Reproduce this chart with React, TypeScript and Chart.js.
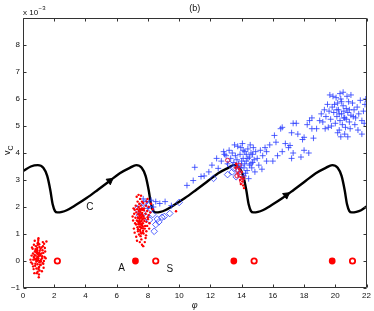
import React, { useEffect, useRef } from "react";
import { Chart, registerables } from "chart.js";
Chart.register(...registerables);

// Trajectory C (black curve), in units of 1e-3
const curveX = [0.0, 0.5, 0.95, 1.3, 1.55, 1.75, 1.9, 2.05, 2.2, 2.5, 2.8, 3.4, 4.07, 4.8, 5.56, 6.2, 6.84, 7.25, 7.6, 7.85, 8.05, 8.2, 8.35, 8.5, 8.8, 9.1, 9.7, 10.37, 11.1, 11.86, 12.5, 13.14, 13.5, 13.85, 14.1, 14.3, 14.45, 14.6, 14.75, 15.05, 15.35, 15.95, 16.62, 17.35, 18.11, 18.75, 19.39, 19.8, 20.15, 20.4, 20.6, 20.75, 20.9, 21.05, 21.35, 21.65, 22.0];
const curveY = [3.33, 3.5, 3.55, 3.45, 3.15, 2.62, 2.1, 1.85, 1.8, 1.82, 1.88, 2.08, 2.33, 2.64, 2.97, 3.25, 3.45, 3.55, 3.45, 3.15, 2.62, 2.1, 1.85, 1.8, 1.82, 1.88, 2.08, 2.33, 2.64, 2.97, 3.25, 3.45, 3.55, 3.45, 3.15, 2.62, 2.1, 1.85, 1.8, 1.82, 1.88, 2.08, 2.33, 2.64, 2.97, 3.25, 3.45, 3.55, 3.45, 3.15, 2.62, 2.1, 1.85, 1.8, 1.82, 1.88, 2.02];

// direction arrows on C
const arrowPts: [number, number][] = [[5.56, 2.97], [16.86, 2.44]];

// equilibria: A (filled) and S (open)
const filledEq: [number, number][] = [[7.2, 0], [13.5, 0], [19.8, 0]];
const openEq: [number, number][] = [[2.2, 0], [8.5, 0], [14.8, 0], [21.1, 0]];

// red dots (samples)
const redDots: [number, number][] = [
  [0.92,0.15],[1.05,-0.05],[0.85,0.32],[0.98,0.08],[1.12,0.45],[0.78,-0.18],[0.95,0.6],[1.01,0.22],[0.88,0.0],[1.18,0.28],
  [0.72,0.12],[0.99,-0.3],[1.07,0.38],[0.83,0.55],[0.93,-0.12],[1.22,0.1],[0.9,0.42],[1.03,-0.22],[0.81,0.2],[0.97,0.7],
  [1.15,-0.02],[0.87,0.05],[1.0,0.18],[0.94,-0.4],[0.76,0.35],[1.09,0.25],[0.91,0.48],[1.26,-0.08],[0.86,-0.28],[1.04,0.62],
  [0.96,0.02],[0.69,0.15],[1.13,-0.15],[0.89,0.3],[1.02,-0.5],[0.82,0.4],[1.08,0.0],[0.95,0.26],[0.79,-0.1],[1.19,0.5],
  [0.93,0.12],[1.06,-0.35],[0.84,0.08],[0.98,0.78],[1.11,0.2],[0.74,0.22],[1.01,-0.6],[0.9,0.34],[1.35,0.64],[0.58,0.5],
  [1.42,0.35],[0.65,-0.2],[1.3,-0.1],[0.97,0.1],[0.88,-0.45],[1.05,0.52],[0.92,0.28],[1.16,0.05],[0.8,0.44],[1.0,-0.25],
  [0.94,0.66],[1.23,0.18],[0.86,-0.02],[1.03,0.3],[0.99,0.84],[0.77,0.06],[1.1,-0.14],[0.91,0.38],[1.5,0.72],[0.48,0.05],
  [0.55,0.2],[0.6,-0.1],[0.62,0.45],[0.66,0.05],[0.68,-0.3],[1.3,0.3],[1.34,0.0],[1.38,0.15],[1.28,0.55],[1.32,-0.25],
  [1.45,0.1],[0.52,-0.05],[0.7,0.6],[1.25,0.4],[0.64,0.28],[1.4,0.48],[0.73,-0.45],[1.21,-0.38],[1.27,0.7],[0.75,0.75],
  [7.52,1.45],[7.61,1.32],[7.44,1.58],[7.7,1.21],[7.38,1.72],[7.55,1.9],[7.66,1.05],[7.48,1.38],[7.59,1.62],[7.33,1.25],
  [7.77,1.48],[7.5,1.15],[7.42,1.85],[7.63,1.78],[7.57,1.02],[7.29,1.5],[7.71,1.66],[7.46,1.28],[7.54,2.05],[7.68,1.4],
  [7.36,1.1],[7.6,1.95],[7.49,1.7],[7.82,1.3],[7.4,1.42],[7.65,1.55],[7.53,0.92],[7.26,1.8],[7.74,1.88],[7.45,2.12],
  [7.58,1.22],[7.35,1.6],[7.69,1.12],[7.51,1.82],[7.62,2.2],[7.43,0.98],[7.79,1.58],[7.47,1.52],[7.56,1.35],[7.31,1.92],
  [7.72,1.02],[7.39,1.36],[7.64,1.7],[7.5,2.3],[7.58,0.8],[7.85,1.75],[7.24,1.35],[7.46,1.65],[7.67,1.28],[7.55,1.6],
  [7.41,2.0],[7.6,1.48],[7.37,1.18],[7.75,1.95],[7.52,1.08],[7.48,0.7],[7.62,0.6],[7.34,2.2],[7.7,2.15],[7.9,1.45],
  [7.2,1.6],[7.56,2.42],[7.28,2.38],[7.44,1.45],[7.66,1.9],[7.53,1.25],[7.8,1.2],[7.42,1.75],[7.95,1.85],[8.05,2.0],
  [7.98,1.62],[8.2,2.12],[8.3,1.92],[9.8,1.84],[7.15,1.9],[7.62,1.38],[7.47,1.92],[7.58,1.73],[7.35,1.48],[7.73,1.58],
  [7.05,1.5],[7.1,1.2],[7.12,1.75],[7.18,1.4],[7.22,2.05],[7.08,1.95],[7.9,1.1],[7.95,1.3],[8.0,1.55],[8.05,1.7],
  [7.88,0.95],[8.1,1.4],[7.92,2.2],[8.15,1.8],[7.02,1.65],[7.25,0.9],[7.85,0.85],[7.98,2.3],[7.15,1.05],[8.08,1.2],
  [7.3,0.75],[7.8,0.7],[7.7,0.55],[7.4,2.45],[7.87,2.05],
  [13.75,3.25],[14.1,2.8],[13.85,3.4],[13.95,3.1],[14.05,2.95],[13.7,3.5],[14.15,2.7],[13.9,3.0],[13.8,3.15],[14.0,3.3],
  [13.65,3.6],[14.1,3.05],[13.95,2.85],[13.6,3.45]
];

// small red open circles
const redRings: [number, number][] = [[13.1,3.73],[13.9,3.28],[14.1,3.08],[13.85,3.55],[13.75,3.35],[14.0,2.95],[13.7,3.15]];

// blue plus samples
const bluePlus: [number, number][] = [
  [7.9,2.2],[8.2,2.25],[8.76,2.13],[8.5,2.2],[9.1,2.2],[7.7,2.3],[8.0,1.95],[9.5,2.05],[8.35,2.0],
  [10.9,2.98],[11.0,3.47],[11.4,3.13],[11.6,3.15],[12.5,3.43],[12.1,3.55],[12.7,3.7],[12.9,3.95],[12.4,3.8],[11.9,3.3],[10.5,2.8],
  [14.1,3.8],[14.3,3.7],[13.9,3.95],[14.5,3.85],[14.2,4.05],[13.7,3.75],[14.6,3.6],[14.0,3.55],[14.4,4.15],[13.8,3.6],
  [14.7,3.95],[14.15,3.45],[13.6,3.9],[14.8,3.75],[14.35,3.35],[13.95,4.2],[14.55,4.3],[13.5,3.65],[14.9,4.05],[14.25,3.25],
  [13.85,3.3],[15.0,3.8],[14.05,4.35],[13.4,4.0],[14.65,3.45],[15.2,4.1],[13.3,3.8],[14.45,3.05],[13.75,4.25],[15.1,3.55],
  [14.15,3.15],[13.2,4.1],[14.75,4.2],[15.35,3.9],[13.65,3.45],[14.5,3.55],[14.0,3.7],[14.3,3.95],[13.1,3.6],[15.5,4.2],
  [14.85,3.3],[13.9,3.45],[14.2,3.6],[14.6,4.0],[13.55,4.3],[15.3,3.4],[14.4,3.8],[13.0,3.9],[14.1,4.1],[15.6,3.7],
  [12.85,4.05],[14.7,3.65],
  [16.0,3.7],[16.3,3.9],[16.6,4.05],[16.1,4.65],[16.5,4.9],[17.0,4.2],[17.3,4.0],[17.6,4.7],[17.9,4.5],[18.2,5.05],
  [18.5,5.3],[17.2,4.75],[16.8,4.35],[18.0,4.1],[18.6,4.55],[15.8,4.3],[17.5,5.1],[18.8,4.9],[16.2,4.4],[19.0,5.2],
  [18.3,4.0],[15.6,4.05],[17.8,3.85],[16.6,4.95],[17.3,5.1],[17.1,4.28],[17.2,3.8],[18.0,4.58],[18.35,5.2],[18.5,4.9],
  [20.4,5.45],[20.6,5.3],[20.2,5.6],[20.8,5.5],[20.1,5.35],[20.5,5.75],[20.3,5.2],[20.7,5.65],[19.9,5.5],[21.0,5.4],
  [20.45,5.05],[20.15,5.85],[20.9,5.15],[19.8,5.7],[21.2,5.6],[20.35,6.0],[20.65,4.95],[19.7,5.25],[21.1,5.85],[20.55,5.55],
  [20.0,5.1],[20.85,5.9],[19.6,5.55],[21.3,5.3],[20.25,4.85],[20.75,6.1],[19.5,5.8],[21.4,5.7],[20.05,6.05],[20.95,4.9],
  [19.4,5.35],[21.5,5.45],[20.6,4.7],[20.3,6.2],[19.3,5.6],[21.6,5.95],[20.15,4.75],[21.0,6.15],[19.85,6.1],[21.7,5.2],
  [19.2,5.15],[20.5,6.25],[21.8,5.55],[19.55,4.95],[21.25,5.05],[21.9,5.8],[19.1,5.45],[20.8,4.6],[21.95,6.0],[19.65,6.15],
  [20.4,5.9],[20.7,5.25],[20.1,5.6],[20.55,5.3],[20.25,5.45],[20.9,5.6],[19.95,5.8],[21.15,5.35],[19.75,5.0],[21.45,4.85],
  [20.35,4.6],[21.7,4.7],[19.35,4.9],[21.85,5.1]
];

// blue diamond samples
const blueDiamond: [number, number][] = [
  [7.3,1.92],[7.5,2.02],[7.65,1.8],[7.9,1.62],[8.1,1.52],[8.4,1.1],[8.6,1.55],[8.9,1.62],[9.05,1.65],[9.4,1.76],
  [10.0,2.17],[8.2,1.92],[8.0,2.08],[7.45,1.7],[8.7,1.45],[8.3,1.72],[8.5,1.35],[7.8,2.15],
  [12.2,3.06],[13.1,3.2],[13.5,3.43],[13.25,3.58],[13.65,3.12],[13.4,3.3]
];

// axis ticks
const xTickStep = 2;
const yTickStep = 1;

// text annotations
const noteTexts = ["C", "A", "S"];
const noteX = [4.28, 6.31, 9.4];
const noteY = [1.99, -0.25, -0.31];

const FONT = '"Liberation Sans", Arial, Helvetica, sans-serif';

const toPts = (arr: [number, number][]) => arr.map(([x, y]) => ({ x, y }));

const framePlugin = {
  id: "matlabFrame",
  afterDraw(chart: any) {
    const { ctx, chartArea: a, scales } = chart;
    const xs = scales.x;
    const ys = scales.y;
    const L = Math.round(a.left) + 0.5;
    const R = Math.round(a.right) - 0.5;
    const T = Math.round(a.top) + 0.5;
    const B = Math.round(a.bottom) - 0.5;
    ctx.save();
    ctx.strokeStyle = "#333";
    ctx.lineWidth = 1;
    ctx.beginPath();
    ctx.moveTo(L, T); ctx.lineTo(R, T); ctx.lineTo(R, B); ctx.lineTo(L, B); ctx.closePath();
    ctx.stroke();
    const tl = 3;
    ctx.beginPath();
    xs.ticks.forEach((t: any) => {
      const px = Math.round(xs.getPixelForValue(t.value)) + 0.5;
      ctx.moveTo(px, B); ctx.lineTo(px, B - tl);
      ctx.moveTo(px, T); ctx.lineTo(px, T + tl);
    });
    ys.ticks.forEach((t: any) => {
      const py = Math.round(ys.getPixelForValue(t.value)) + 0.5;
      ctx.moveTo(L, py); ctx.lineTo(L + tl, py);
      ctx.moveTo(R, py); ctx.lineTo(R - tl, py);
    });
    ctx.stroke();

    ctx.fillStyle = "#111";
    // title
    ctx.font = `9px ${FONT}`;
    ctx.textAlign = "center";
    ctx.textBaseline = "middle";
    ctx.fillText("(b)", (a.left + a.right) / 2, 9);
    // exponent
    ctx.textAlign = "left";
    ctx.textBaseline = "alphabetic";
    ctx.font = `8px ${FONT}`;
    ctx.fillText("x 10", a.left, 15);
    const w = ctx.measureText("x 10").width;
    ctx.font = `6px ${FONT}`;
    ctx.fillText("\u22123", a.left + w + 0.5, 10);
    // x label
    ctx.font = `italic 9px ${FONT}`;
    ctx.textAlign = "center";
    ctx.textBaseline = "middle";
    ctx.fillText("\u03c6", (a.left + a.right) / 2, 305);
    // y label
    ctx.save();
    ctx.translate(7, (a.top + a.bottom) / 2 - 3);
    ctx.rotate(-Math.PI / 2);
    ctx.textAlign = "left";
    ctx.textBaseline = "alphabetic";
    ctx.font = `9px ${FONT}`;
    const vw = ctx.measureText("v").width;
    ctx.fillText("v", -5, 3);
    ctx.font = `7px ${FONT}`;
    ctx.fillText("C", -5 + vw, 6);
    ctx.restore();
    // annotations
    ctx.font = `10px ${FONT}`;
    ctx.textAlign = "center";
    ctx.textBaseline = "middle";
    noteTexts.forEach((s, i) => {
      ctx.fillText(s, xs.getPixelForValue(noteX[i]), ys.getPixelForValue(noteY[i]));
    });
    ctx.restore();
  },
};

export default function App() {
  const ref = useRef<HTMLCanvasElement | null>(null);
  useEffect(() => {
    if (!ref.current) return;
    const blue = "rgba(40,60,255,0.8)";
    const chart = new Chart(ref.current, {
      type: "scatter",
      data: {
        datasets: [
          {
            data: curveX.map((x, i) => ({ x, y: curveY[i] })),
            showLine: true,
            borderColor: "#000",
            borderWidth: 2.4,
            pointRadius: 0,
            cubicInterpolationMode: "monotone",
            order: 10,
          } as any,
          {
            data: toPts(arrowPts),
            pointStyle: "triangle",
            rotation: 53,
            pointRadius: 4,
            backgroundColor: "#000",
            borderColor: "#000",
            borderWidth: 1,
            order: 9,
          },
          {
            data: toPts(blueDiamond),
            pointStyle: "rectRot",
            pointRadius: 3.3,
            backgroundColor: "rgba(0,0,0,0)",
            borderColor: blue,
            borderWidth: 1,
            order: 6,
          },
          {
            data: toPts(bluePlus),
            pointStyle: "cross",
            pointRadius: 3,
            borderColor: blue,
            borderWidth: 1,
            order: 5,
          },
          {
            data: toPts(redDots),
            pointStyle: "circle",
            pointRadius: 1.2,
            backgroundColor: "#ff0000",
            borderWidth: 0,
            order: 4,
          },
          {
            data: toPts(redRings),
            pointStyle: "circle",
            pointRadius: 2,
            backgroundColor: "rgba(0,0,0,0)",
            borderColor: "#e0204a",
            borderWidth: 1,
            order: 3,
          },
          {
            data: toPts(filledEq),
            pointStyle: "circle",
            pointRadius: 3.4,
            backgroundColor: "#ff0000",
            borderColor: "#ff0000",
            borderWidth: 0,
            order: 2,
          },
          {
            data: toPts(openEq),
            pointStyle: "circle",
            pointRadius: 2.7,
            backgroundColor: "#ffffff",
            borderColor: "#ff0000",
            borderWidth: 1.8,
            order: 1,
          },
        ],
      },
      options: {
        animation: false,
        responsive: false,
        events: [],
        layout: { padding: { top: 18, right: 7, left: 0, bottom: 0 } },
        plugins: { legend: { display: false }, tooltip: { enabled: false } },
        scales: {
          x: {
            type: "linear",
            min: 0,
            max: 22,
            grid: { display: false, drawTicks: false },
            border: { display: false },
            ticks: { stepSize: xTickStep, color: "#111", font: { family: FONT, size: 8 }, padding: 3, maxRotation: 0 },
            afterFit: (s: any) => { s.height = 23; },
          },
          y: {
            type: "linear",
            min: -1,
            max: 9,
            grid: { display: false, drawTicks: false },
            border: { display: false },
            ticks: {
              stepSize: yTickStep,
              color: "#111",
              font: { family: FONT, size: 8 },
              padding: 3,
              callback: (v: any) => (v === 9 ? "" : v < 0 ? "\u22121" : String(v)),
            },
            afterFit: (s: any) => { s.width = 23; },
          },
        },
      },
      plugins: [framePlugin],
    } as any);
    return () => chart.destroy();
  }, []);
  return (
    <div style={{ position: "absolute", left: 0, top: 0, width: 374, height: 311, background: "#fff" }}>
      <canvas ref={ref} width={374} height={311} style={{ display: "block" }} />
    </div>
  );
}
